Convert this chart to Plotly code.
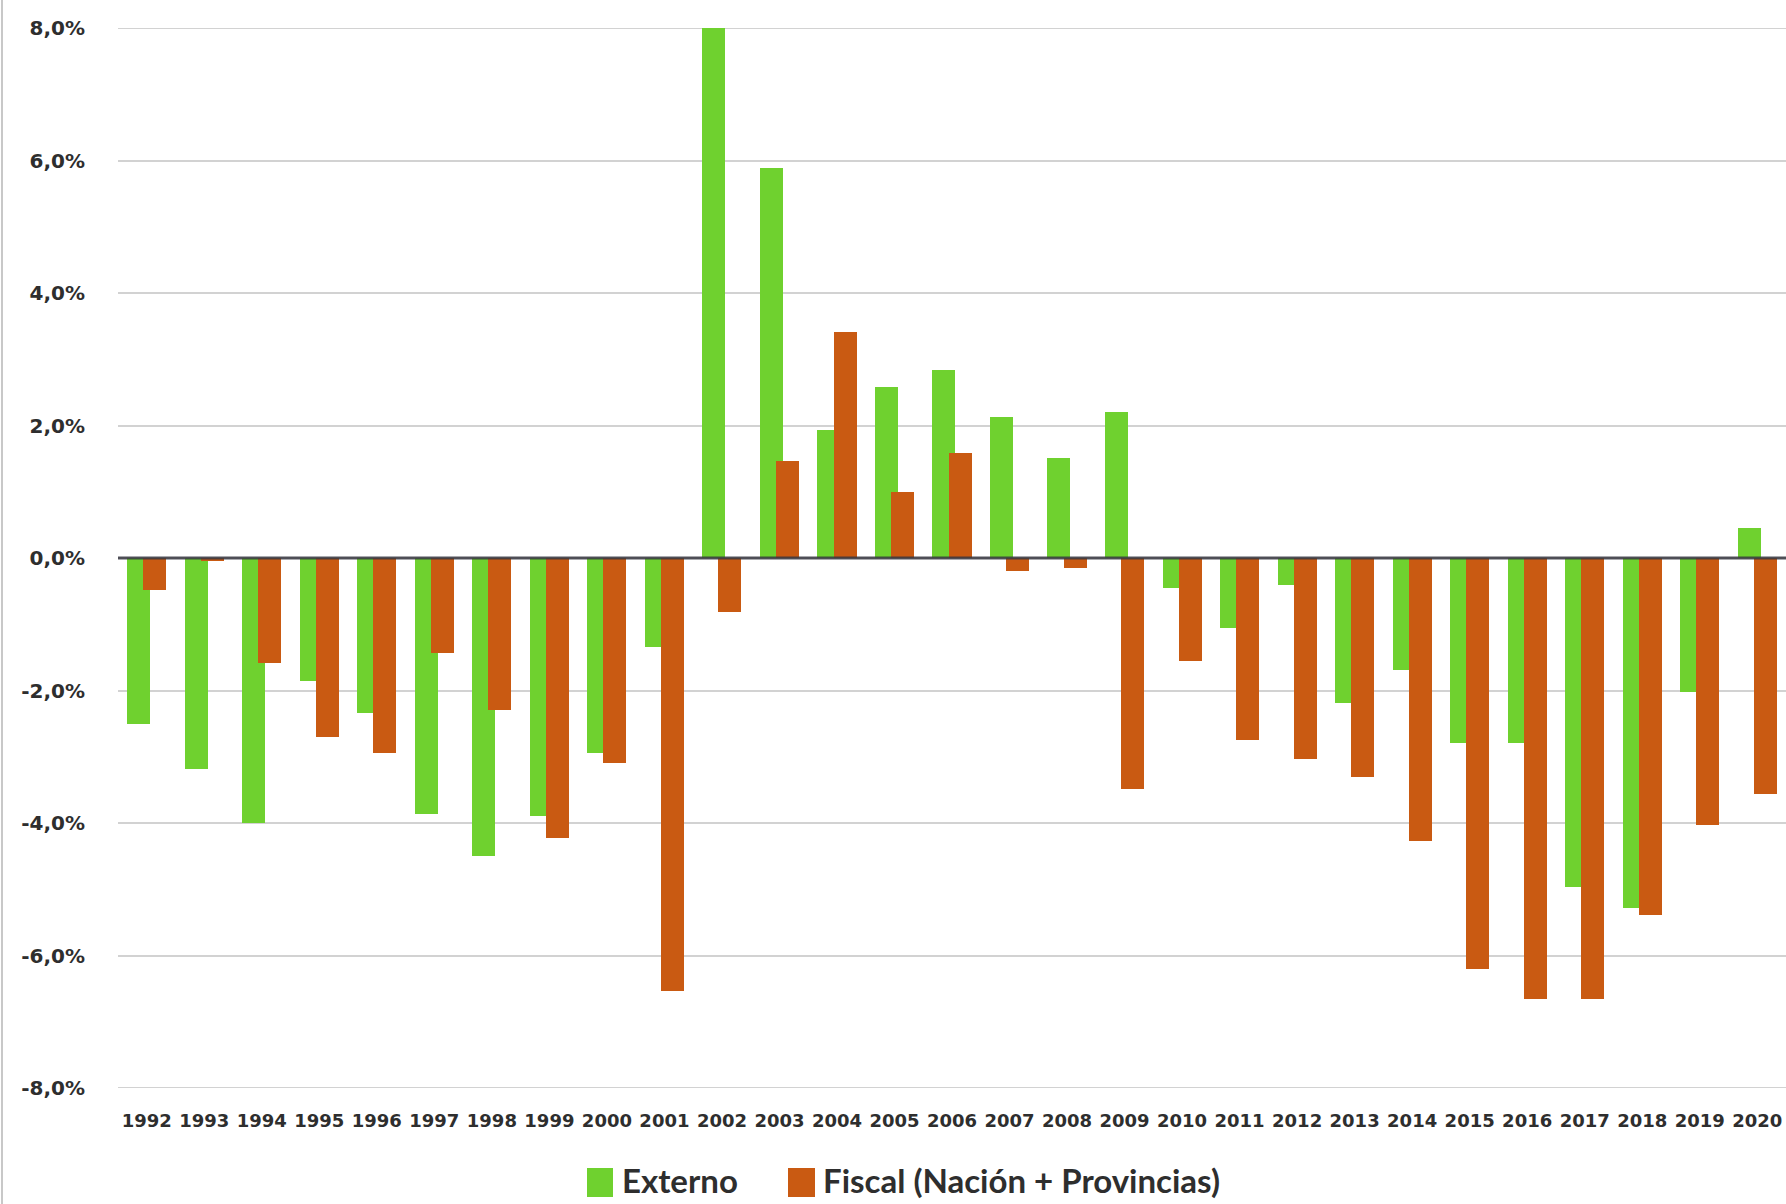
import plotly.graph_objects as go

# Resultado externo y fiscal, % del PIB
years = [str(y) for y in range(1992, 2021)]
externo = [-2.50, -3.18, -4.00, -1.86, -2.34, -3.86, -4.50, -3.90, -2.94, -1.34,
           8.00, 5.89, 1.93, 2.58, 2.84, 2.13, 1.51, 2.20, -0.45, -1.05,
           -0.41, -2.19, -1.69, -2.79, -2.79, -4.96, -5.28, -2.03, 0.45]
fiscal = [-0.48, -0.05, -1.58, -2.70, -2.94, -1.43, -2.29, -4.22, -3.10, -6.54,
          -0.81, 1.46, 3.41, 1.00, 1.58, -0.19, -0.15, -3.49, -1.55, -2.75,
          -3.03, -3.30, -4.27, -6.20, -6.66, -6.66, -5.39, -4.03, -3.56]
y_ticks = [-8, -6, -4, -2, 0, 2, 4, 6, 8]
y_tick_text = ["-8,0%", "-6,0%", "-4,0%", "-2,0%", "0,0%", "2,0%", "4,0%", "6,0%", "8,0%"]
series_names = ["Externo", "Fiscal (Nación + Provincias)"]

GREEN = "#6FD12F"
ORANGE = "#C95A12"
GRID = "#D2D2D2"
TEXT = "#2E2E2E"

W, H = 1786, 1204
ML, MR, MT, MB = 118, 0, 28, 116
PW, PH = W - ML - MR, H - MT - MB


def px_x(p):
    return (p - ML) / PW


def px_y(p):
    return (H - MB - p) / PH


fig = go.Figure()
fig.add_trace(go.Bar(x=years, y=externo, name=series_names[0],
                     marker=dict(color=GREEN, line=dict(width=0)),
                     offset=-0.34, width=0.40, showlegend=False))
fig.add_trace(go.Bar(x=years, y=fiscal, name=series_names[1],
                     marker=dict(color=ORANGE, line=dict(width=0)),
                     offset=-0.06, width=0.40, showlegend=False))

# gridlines at the range limits (not drawn by the axis itself)
for lim in (y_ticks[0], y_ticks[-1]):
    fig.add_shape(type="line", xref="paper", yref="y", x0=0, x1=1, y0=lim, y1=lim,
                  line=dict(color=GRID, width=2), layer="below")

# zero axis line drawn over the bars
fig.add_shape(type="line", xref="paper", yref="y", x0=0, x1=1, y0=0, y1=0,
              line=dict(color="rgba(55,55,65,0.85)", width=3), layer="above")

# thin outer border on the left
fig.add_shape(type="line", xref="paper", yref="paper",
              x0=px_x(2), x1=px_x(2), y0=px_y(0), y1=px_y(H),
              line=dict(color="#C8C8C8", width=2))

# legend drawn as swatches + labels
legend_items = [(GREEN, 587, 613, 621, series_names[0]),
                (ORANGE, 788, 815, 822, series_names[1])]
for color, sx0, sx1, tx, label in legend_items:
    fig.add_shape(type="rect", xref="paper", yref="paper",
                  x0=px_x(sx0), x1=px_x(sx1), y0=px_y(1197), y1=px_y(1168),
                  fillcolor=color, line=dict(width=0))
    fig.add_annotation(xref="paper", yref="paper", x=px_x(tx), y=px_y(1180),
                       text=label, showarrow=False, xanchor="left", yanchor="middle",
                       borderpad=0,
                       font=dict(family="Lato", size=33, color=TEXT, weight="bold"))

fig.update_layout(
    width=W, height=H,
    margin=dict(l=ML, r=MR, t=MT, b=MB),
    paper_bgcolor="white", plot_bgcolor="white",
    barmode="overlay", bargap=0,
    showlegend=False,
    font=dict(family="Lato", color=TEXT),
)
fig.update_xaxes(type="category", categoryorder="array", categoryarray=years,
                 showgrid=False, showline=False, zeroline=False,
                 ticks="outside", ticklen=16, tickcolor="rgba(0,0,0,0)",
                 tickfont=dict(family="DejaVu Sans", size=18, color=TEXT, weight="bold"),
                 tickangle=0)
fig.update_yaxes(range=[-8, 8], tickvals=y_ticks, ticktext=y_tick_text,
                 showgrid=True, gridcolor=GRID, gridwidth=2,
                 zeroline=False, showline=False,
                 ticks="outside", ticklen=28, tickcolor="rgba(0,0,0,0)",
                 tickfont=dict(family="DejaVu Sans", size=20, color=TEXT, weight="bold"))

fig.write_html("out.html")
